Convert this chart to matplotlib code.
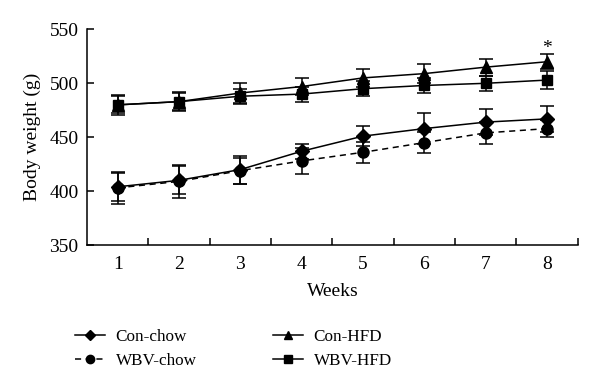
import matplotlib.pyplot as plt

plt.rcParams['font.family'] = ['Liberation Serif', 'DejaVu Serif']

weeks = [1, 2, 3, 4, 5, 6, 7, 8]

con_chow = [404, 410, 420, 437, 451, 458, 464, 467]
con_chow_err = [13, 13, 13, 7, 9, 14, 12, 12]

wbv_chow = [403, 409, 419, 428, 436, 445, 454, 458]
wbv_chow_err = [15, 15, 12, 12, 10, 10, 10, 8]

con_hfd = [480, 483, 491, 497, 505, 509, 515, 520]
con_hfd_err = [8, 9, 9, 8, 8, 9, 8, 7]

wbv_hfd = [480, 483, 488, 490, 495, 498, 500, 503]
wbv_hfd_err = [9, 8, 7, 7, 7, 7, 7, 8]

fs = 14

fig = plt.figure(figsize=(6, 3.92), dpi=100)
ax = fig.add_axes([0.145, 0.375, 0.818, 0.55])

common = dict(color='black', lw=1.1, capsize=5, capthick=1.1, elinewidth=1.1)
e1 = ax.errorbar(weeks, con_chow, yerr=con_chow_err, marker='D', ms=7, label='Con-chow', **common)
e2 = ax.errorbar(weeks, wbv_chow, yerr=wbv_chow_err, marker='o', ms=8, ls=(0, (4, 3)), label='WBV-chow', **common)
e3 = ax.errorbar(weeks, con_hfd, yerr=con_hfd_err, marker='^', ms=8, label='Con-HFD', **common)
e4 = ax.errorbar(weeks, wbv_hfd, yerr=wbv_hfd_err, marker='s', ms=7, label='WBV-HFD', **common)

# significance mark at week 8
ax.text(8, 524, '*', ha='center', va='bottom', fontsize=fs)

ax.set_xlim(0.5, 8.5)
ax.set_ylim(350, 550)
ax.set_yticks([350, 400, 450, 500, 550])
ax.set_xticks([1.5, 2.5, 3.5, 4.5, 5.5, 6.5, 7.5, 8.5])
ax.set_xticklabels([])
ax.set_xticks(weeks, minor=True)
ax.set_xticklabels([str(w) for w in weeks], minor=True)
ax.tick_params(axis='x', which='minor', length=0, pad=8, labelsize=fs)
ax.tick_params(axis='x', which='major', direction='in', length=5, width=1.1)
ax.tick_params(axis='y', direction='in', length=5, width=1.1, labelsize=fs, pad=6)
for s in ['top', 'right']:
    ax.spines[s].set_visible(False)
for s in ['left', 'bottom']:
    ax.spines[s].set_linewidth(1.1)

ax.set_xlabel('Weeks', fontsize=fs, labelpad=7)
ax.set_ylabel('Body weight (g)', fontsize=fs, labelpad=6)

handles = [e[0] for e in (e1, e2, e3, e4)]
labels = ['Con-chow', 'WBV-chow', 'Con-HFD', 'WBV-HFD']
fig.legend(handles, labels, loc='upper left', bbox_to_anchor=(0.1, 0.2), ncol=2,
           frameon=False, fontsize=12.3, handlelength=1.75, columnspacing=4.5,
           labelspacing=0.45, handletextpad=0.6, markerscale=0.75)

fig.savefig('out.png', dpi=100)
